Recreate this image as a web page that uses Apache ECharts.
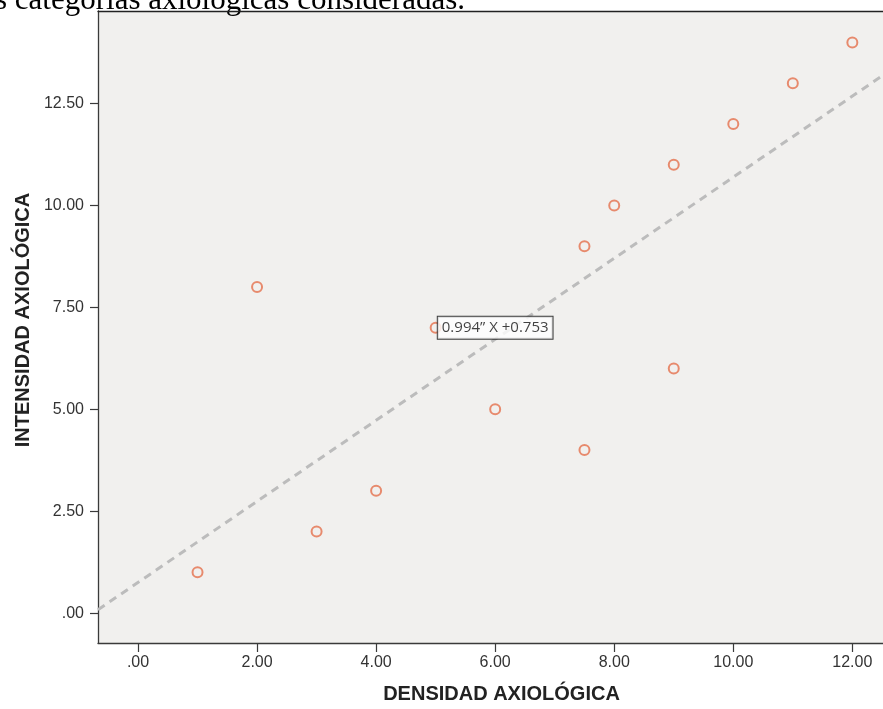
<!DOCTYPE html>
<html>
<head>
<meta charset="utf-8">
<script src="https://cdn.jsdelivr.net/npm/echarts@6/dist/echarts.min.js"></script>
<style>
html,body{margin:0;padding:0;background:#fff;}
#chart{width:883px;height:709px;}
</style>
</head>
<body>
<div id="chart"></div>
<script>
// ---- data ----
const densidad = [1, 2, 3, 4, 5, 6, 7.5, 7.5, 8, 9, 9, 10, 11, 12];
const intensidad = [1, 8, 2, 3, 7, 5, 4, 9, 10, 11, 6, 12, 13, 14];
const xTicks = [0, 2, 4, 6, 8, 10, 12];
const yTicks = [0, 2.5, 5, 7.5, 10, 12.5];
const fitSlope = 0.994;
const fitIntercept = 0.753;
const fitText = '0.994\u201D X +0.753';
const fitLabelAt = [6, 7];
const xTitle = 'DENSIDAD AXIOLÓGICA';
const yTitle = 'INTENSIDAD AXIOLÓGICA';
const captionText = 's categorías axiológicas consideradas.';

// ---- axis ranges ----
const xMin = -0.672, xMax = 12.515;
const yMin = -0.733, yMax = 14.77;

const fmt = v => (v === 0 ? '.00' : v.toFixed(2));
const points = densidad.map((x, i) => [x, intensidad[i]]);
const fitLine = [xMin, xMax].map(x => [x, fitSlope * x + fitIntercept]);

const axisCol = '#3a3a3a';
const chart = echarts.init(document.getElementById('chart'), null, {renderer: 'canvas'});
chart.setOption({
  animation: false,
  backgroundColor: '#ffffff',
  graphic: [{
    type: 'text', left: -5, top: -15,
    style: {text: captionText, font: '31px "Liberation Serif"', fill: '#000'}
  }],
  grid: {
    left: 98, top: 11, right: 0, bottom: 63,
    show: true, backgroundColor: '#f1f0ee', borderWidth: 0
  },
  xAxis: [{
    type: 'value', min: xMin, max: xMax,
    name: xTitle, nameLocation: 'middle', nameGap: 41,
    nameTextStyle: {fontFamily: 'Liberation Sans', fontWeight: 'bold', fontSize: 20, color: '#222', padding: [0, 0, 0, 22]},
    splitLine: {show: false},
    axisLine: {show: true, onZero: false, lineStyle: {color: axisCol, width: 1.3}},
    axisTick: {show: true, customValues: xTicks, length: 9, lineStyle: {color: axisCol, width: 1.2}},
    axisLabel: {customValues: xTicks, formatter: fmt, margin: 12,
      fontFamily: 'Liberation Sans', fontSize: 16, color: '#333'}
  }, {
    type: 'value', position: 'top', min: xMin, max: xMax,
    splitLine: {show: false},
    axisLine: {show: true, onZero: false, lineStyle: {color: '#222', width: 1.3}},
    axisTick: {show: false}, axisLabel: {show: false}
  }],
  yAxis: {
    type: 'value', min: yMin, max: yMax,
    name: yTitle, nameLocation: 'middle', nameGap: 59, nameRotate: 90,
    nameTextStyle: {fontFamily: 'Liberation Sans', fontWeight: 'bold', fontSize: 20, color: '#222', padding: [0, 0, 0, 14]},
    splitLine: {show: false},
    axisLine: {show: true, onZero: false, lineStyle: {color: axisCol, width: 1.3}},
    axisTick: {show: true, customValues: yTicks, length: 8, lineStyle: {color: axisCol, width: 1.2}},
    axisLabel: {customValues: yTicks, formatter: fmt, margin: 14,
      fontFamily: 'Liberation Sans', fontSize: 16, color: '#333'}
  },
  series: [
    {
      type: 'line', data: fitLine, showSymbol: false, symbol: 'none', silent: true,
      lineStyle: {color: '#bcbcbc', width: 3, type: [8, 6]}, z: 2
    },
    {
      type: 'scatter', data: points, symbol: 'circle', symbolSize: 10,
      itemStyle: {color: 'rgba(0,0,0,0)', borderColor: '#e5704c', borderWidth: 2}, z: 3
    },
    {
      type: 'scatter', data: [fitLabelAt], symbolSize: 0, silent: true, z: 5,
      label: {
        show: true, position: 'inside', formatter: fitText,
        fontFamily: 'Open Sans', fontSize: 15, color: '#111',
        backgroundColor: '#ffffff', borderColor: '#111', borderWidth: 1, padding: [4, 4, 3, 4]
      }
    }
  ]
});
</script>
</body>
</html>
